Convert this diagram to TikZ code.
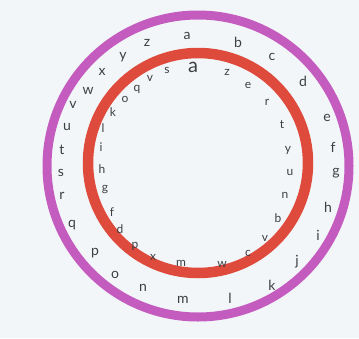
\documentclass[tikz,border=0pt]{standalone}
\usepackage{fontspec}
\setmainfont{Lato}
\definecolor{ringpurple}{RGB}{196,92,192}
\definecolor{ringred}{RGB}{222,74,60}
\definecolor{letter}{RGB}{62,62,66}
\definecolor{paper}{RGB}{243,246,249}
\tikzset{
  outerletter/.style={font=\fontsize{14}{14}\selectfont, text=letter, inner sep=0pt},
  innerletter/.style={font=\fontsize{12}{12}\selectfont, text=letter, inner sep=0pt},
}

\begin{document}
\begin{tikzpicture}[x=1pt, y=-1pt]
  % page, pixel-like coordinates with y going down
  \fill[paper] (0,0) rectangle (359,338);
  \useasboundingbox (0,0) rectangle (359,338);

  % the two rings
  \draw[ringpurple, line width=9pt] (198,166) circle (151);
  \draw[ringred, line width=10.5pt] (198,163) circle (110);

  % outer alphabet
  \foreach \l/\x/\y in {a/187/36, b/238/42, c/272/57, d/303/81, e/327/118,
      f/333/147, g/336/173, h/328/207, i/318/235, j/297/262, k/272/285,
      l/230/298, m/183/300, n/143/288, o/115/275, p/95/253, q/72/225,
      r/62/196, s/61/173, t/62/150, u/67/127, v/73/105, w/88/91,
      x/102/72, y/123/57, z/147/43}
    \node[outerletter] (out-\l) at (\x,\y) {\l};

  % inner alphabet
  \node[innerletter, font=\fontsize{20}{20}\selectfont] (in-a) at (193,67) {a};
  \foreach \l/\x/\y [count=\i] in {z/227/72, e/248/85, r/267/102, t/282/125,
      y/288/150, u/290/173, n/285/195, b/278/218, v/265/238, c/248/253,
      w/222/264, m/181/263, x/153/257, p/135/246, d/120/229, f/112/212,
      g/105/190, h/102/169, i/101/147, l/103/128, k/113/112, o/125/99,
      q/137/89, v/150/78, s/167/70}
    \node[innerletter] (in\i) at (\x,\y) {\l};
\end{tikzpicture}
\end{document}
